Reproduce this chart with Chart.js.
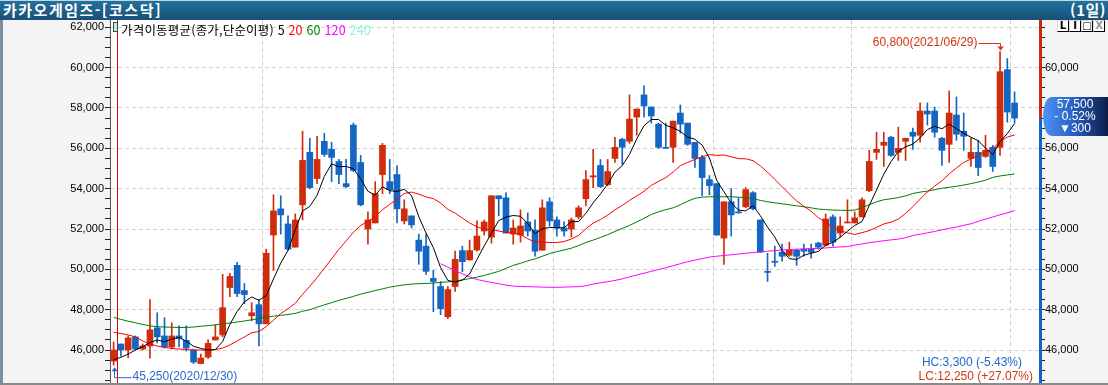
<!DOCTYPE html>
<html lang="ko">
<head>
<meta charset="utf-8">
<title>카카오게임즈 일봉</title>
<script src="https://cdn.jsdelivr.net/npm/chart.js@4.4.1/dist/chart.umd.min.js"></script>
<style>
  html, body { margin: 0; padding: 0; }
  body { width: 1108px; height: 385px; overflow: hidden; position: relative; background: #f4f4f4; font-family: 'Liberation Sans', Arial, sans-serif; }
  #c { position: absolute; left: 0; top: 0; }
  #edge { position: absolute; left: 0; top: 0; width: 3px; height: 385px; background: #7d8ea3; }
  #bottom { position: absolute; left: 0; top: 383px; width: 1108px; height: 2px; background: #8a8a8a; }
  #title { position: absolute; left: 0; top: 0; width: 1108px; height: 20px; color: #fff;
           background: linear-gradient(#c9d3dc 0, #c9d3dc 1px, #20729c 1px, #1a4f78 100%);
           font: bold 15px 'Noto Sans CJK KR'; }
  #title .l { position: absolute; left: 3px; top: 0; line-height: 20px; letter-spacing: 1.5px; }
  #title .r { position: absolute; right: 2px; top: 0; line-height: 20px; letter-spacing: 0.5px; }
  #icon { position: absolute; left: 113px; top: 22px; width: 3px; height: 8px; border: 1px solid #3c4a44; background: #cde8d2; }
  #legend { position: absolute; left: 121px; top: 20px; line-height: 15px; font: 12.5px 'Noto Sans CJK KR'; color: #000; white-space: nowrap; letter-spacing: 0.2px; }
  .btn { position: absolute; top: 20px; width: 10px; height: 10px; background: #fff; border: 1px solid #000;
         border-top-color: #ddd; border-left-color: #ddd; font: bold 10px 'DejaVu Sans'; line-height: 10px; text-align: center; color: #000; }
  .stat { position: absolute; font: 12px 'Liberation Sans'; line-height: 14px; white-space: nowrap; }
</style>
</head>
<body>
<canvas id="c" width="1108" height="385"></canvas>
<div id="edge"></div>
<div id="bottom"></div>
<div id="title"><span class="l">카카오게임즈-[코스닥]</span><span class="r">(1일)</span></div>
<div id="icon"></div>
<div id="legend">가격이동평균(종가,단순이평) <span style="color:#000">5</span> <span style="color:#ff0000">20</span> <span style="color:#008000">60</span> <span style="color:#ff00ff">120</span> <span style="color:#8ff0d6">240</span></div>
<div class="btn" style="left:1057px">L</div>
<div class="btn" style="left:1069px">I</div>
<div class="btn" style="left:1081px">□</div>
<div class="btn" style="left:1093px;color:#999">X</div>
<div class="stat" style="right:86px;top:355px;color:#2366c8">HC:3,300 (-5.43%)</div>
<div class="stat" style="right:75px;top:369px;color:#d4340f">LC:12,250 (+27.07%)</div>
<script>
// trading days shown (2020/12/30 .. 2021/07/01)
const dec20 = [30];
const jan21 = [4,5,6,7,8,11,12,13,14,15,18,19,20,21,22,25,26,27,28,29];
const feb21 = [1,2,3,4,5,8,9,10,15,16,17,18,19,22,23,24,25,26];
const mar21 = [2,3,4,5,8,9,10,11,12,15,16,17,18,19,22,23,24,25,26,29,30,31];
const apr21 = [1,2,5,6,7,8,9,12,13,14,15,16,19,20,21,22,23,26,27,28,29,30];
const may21 = [3,4,6,7,10,11,12,13,14,17,18,20,21,24,25,26,27,28,31];
const jun21 = [1,2,3,4,7,8,9,10,11,14,15,16,17,18,21,22,23,24,25,28,29,30];
const jul21 = [1];

const open = [45450,46300,46000,46650,46050,46200,47100,46700,46150,46700,46480,46000,45330,45650,46500,46750,49100,50200,48950,47700,
  48250,47300,51700,53000,52250,51100,53200,55800,54500,56350,55950,55350,54250,57150,55300,52000,52300,54700,54350,54700,
  52400,52650,51450,51150,49550,49150,47650,49150,50930,50470,50960,51900,51600,53650,53550,51750,51700,52350,51950,50950,
  53350,52450,52050,52000,52600,53500,54580,55150,54200,55500,56450,56350,57550,58650,58050,57200,56050,56050,57750,57250,
  56300,55550,54450,54250,51550,53350,52850,53100,53800,52450,49900,50400,50850,50700,50950,51000,51000,51300,51200,52600,
  51800,52300,52300,52600,53900,55800,56150,56550,55800,56350,56800,56650,57850,57850,56500,56200,57650,56850,55500,55800,
  55600,56050,56050,59900,58250];
const high = [46400,46300,46700,46700,46300,48500,47850,47600,47350,47200,47200,46050,45800,46500,47250,49750,49800,50350,49300,48350,
  48500,51000,53700,53650,52650,52750,56850,56500,56600,56750,56300,55450,55450,57250,55650,52850,54350,56250,55450,55150,
  53450,52650,51750,51750,49950,49400,49150,50900,51150,51450,52400,52450,53650,53650,53800,52450,52950,52800,52450,53450,
  53550,52600,52350,52550,53150,54900,55950,55450,55450,56550,56500,58650,57950,59100,58050,57250,57250,57350,58150,57250,
  56300,55650,54650,54250,53350,54000,53550,54050,53850,52450,50800,51150,51250,51350,51000,51250,51250,51350,52750,52700,
  52600,53450,52850,53550,55900,56800,56800,56600,57050,56500,57000,58250,58250,58050,56550,58850,58550,57750,56500,56400,
  56650,56150,60800,60450,58800];
const low = [45250,45700,45620,46000,46000,45600,46350,46100,46050,46150,45950,45330,45320,45580,46500,46650,48650,48650,48300,47450,
  46200,47300,49950,51750,50950,51100,52450,54000,54250,55600,54350,54250,54050,54850,53150,51250,52300,53750,53750,52300,
  52250,52050,50250,49750,47900,47750,47550,48900,49880,50450,50900,51700,51300,52650,51800,51250,51350,51650,50650,50950,
  52150,51650,51650,51600,52500,53150,54050,54050,54150,55300,55200,56250,56650,57550,57250,56000,56000,55300,56750,56150,
  55050,53650,53700,51700,50250,51650,52780,53050,52950,50850,49400,50150,50400,50650,50200,50650,50550,51000,51150,51150,
  51600,52300,52300,52600,53850,55450,55100,55600,55400,55400,55950,56300,57150,56550,55150,55300,56400,55900,55100,54650,
  55550,54850,55650,57300,57250];
const close = [46000,46000,46600,46050,46200,47000,46650,46150,46700,46580,46100,45400,45600,46330,46650,48100,49650,48800,48750,47850,
  47300,50800,52900,52700,51000,52450,55400,54050,55450,55700,55550,54700,54100,54900,53200,52450,53750,56150,53950,53000,
  53000,52200,50900,49900,49400,48050,49000,50500,50380,50930,51650,52350,53650,53500,51800,52050,52150,51900,50900,53050,
  52400,52050,51900,52450,53050,54450,54640,54100,54850,56050,56050,57450,57950,58100,57600,56050,56000,57350,57200,56200,
  55500,54550,54150,51700,53350,52700,52800,53950,53000,50850,49850,50350,50650,50950,50650,50900,50850,51100,52500,51350,
  52150,52350,52550,53450,55350,55950,56300,55650,56000,56500,56600,57850,57700,56800,55900,57750,56700,56600,55800,55050,
  55900,55100,59800,57800,57500];

// moving averages
const ma5 = [45510,45640,45800,46000,46170,46370,46500,46410,46540,46620,46440,46190,46080,46000,46020,46420,47270,47910,48390,48630,
  48470,48700,49520,50310,50940,51970,52890,53120,53670,54610,55230,55090,55100,54990,54490,53870,53680,54090,53900,53860,
  53970,53660,52610,51800,51080,50090,49450,49370,49470,49770,50490,51160,51790,52420,52590,52670,52630,52280,51760,52010,
  52080,52060,52060,52370,52370,52780,53300,53740,54220,54820,55140,55700,56470,57120,57430,57430,57140,57020,56840,56560,
  56450,56160,55520,54420,53850,53290,52940,52900,53160,52660,52090,51600,50940,50530,50490,50700,50800,50890,51200,51340,
  51590,51890,52180,52370,53170,53930,54720,55340,55850,56080,56210,56520,56930,57090,56970,57200,56970,56750,56550,56380,
  56010,55690,56330,56730,57220];
const ma20 = [46880,46820,46750,46650,46450,46300,46200,46130,46080,46050,46030,46000,46000,46000,46020,46100,46250,46450,46650,46860,
  46920,47160,47480,47810,48050,48320,48760,49160,49590,50050,50520,50990,51410,51840,52170,52390,52590,52960,53220,53480,
  53760,53830,53730,53590,53510,53290,52970,52790,52540,52300,52110,51990,51970,51900,51830,51810,51730,51510,51360,51360,
  51330,51330,51380,51500,51690,52010,52290,52470,52690,52950,53170,53420,53640,53870,54160,54360,54550,54820,55140,55300,
  55450,55580,55690,55650,55670,55580,55490,55480,55390,55130,54820,54460,54100,53740,53390,53130,52880,52560,52330,52090,
  51920,51810,51730,51820,51920,52080,52250,52340,52490,52770,53110,53480,53840,54130,54390,54730,55030,55300,55470,55650,
  55840,55980,56340,56560,56660];
const ma60 = [47620,47520,47430,47350,47270,47200,47160,47140,47130,47120,47120,47140,47180,47210,47250,47300,47340,47390,47440,47500,
  47560,47630,47680,47720,47760,47820,47920,48000,48120,48240,48350,48460,48560,48660,48770,48860,48950,49030,49120,49180,
  49230,49270,49290,49300,49320,49350,49380,49420,49480,49540,49610,49700,49800,49900,50050,50200,50300,50420,50520,50650,
  50780,50880,50960,51050,51180,51330,51450,51580,51720,51880,52030,52180,52350,52530,52720,52850,52960,53050,53200,53380,
  53520,53580,53600,53600,53600,53600,53580,53550,53510,53420,53350,53300,53250,53200,53150,53100,53050,52990,52960,52940,
  52930,52920,52940,53060,53200,53350,53450,53500,53560,53640,53760,53830,53880,53950,54020,54070,54120,54180,54250,54330,
  54420,54560,54630,54680,54730];
const ma120 = [null,null,null,null,null,null,null,null,null,null,null,null,null,null,null,null,null,null,null,null,
  null,null,null,null,null,null,null,null,null,null,null,null,null,null,null,null,null,null,null,null,
  null,null,null,null,null,50280,50110,49940,49780,49620,49500,49420,49350,49290,49220,49170,49150,49140,49130,49120,
  49110,49110,49120,49130,49140,49190,49270,49330,49390,49450,49530,49630,49720,49810,49900,49990,50080,50180,50280,50380,
  50460,50530,50610,50650,50690,50720,50760,50800,50830,50870,50900,50930,50960,50980,51000,51010,51030,51040,51060,51090,
  51110,51130,51200,51260,51320,51370,51420,51460,51500,51570,51680,51740,51810,51880,51960,52030,52100,52180,52260,52380,
  52490,52600,52700,52800,52910];

const priceTicks = [46000,48000,50000,52000,54000,56000,58000,60000,62000];
const yMin = 44366, yMax = 62362;
const spareSlots = 3;

const pad = d => (d < 10 ? '0' : '') + d;
const dates = [].concat(
  dec20.map(d => '2020/12/' + pad(d)), jan21.map(d => '2021/01/' + pad(d)),
  feb21.map(d => '2021/02/' + pad(d)), mar21.map(d => '2021/03/' + pad(d)),
  apr21.map(d => '2021/04/' + pad(d)), may21.map(d => '2021/05/' + pad(d)),
  jun21.map(d => '2021/06/' + pad(d)), jul21.map(d => '2021/07/' + pad(d)));
const labels = dates.slice();
for (let k = 0; k < spareSlots; k++) labels.push(' '.repeat(k + 1));

const UP = '#cf2c0c', DOWN = '#1565c3';
const colors = close.map((c, i) => c >= open[i] ? UP : DOWN);
const bodies = close.map((c, i) => [open[i], c]);
const wicks = close.map((c, i) => [low[i], high[i]]);

// month boundaries (dashed) and year boundary (red)
const monthStart = [], yearStart = [];
for (let i = 1; i < dates.length; i++) {
  if (dates[i].slice(0, 4) !== dates[i - 1].slice(0, 4)) yearStart.push(i);
  else if (dates[i].slice(0, 7) !== dates[i - 1].slice(0, 7)) monthStart.push(i);
}

const fmt = v => v.toLocaleString('en-US');
const minorTicks = [];
for (let v = 44500; v <= 62000; v += 500) minorTicks.push(v);

const decor = {
  id: 'decor',
  beforeDraw(chart) {
    const { ctx, chartArea: a } = chart;
    ctx.save();
    ctx.fillStyle = '#ffffff';
    ctx.fillRect(a.left, a.top, a.right - a.left, a.bottom - a.top);
    ctx.restore();
  },
  beforeDatasetsDraw(chart) {
    const { ctx, chartArea: a, scales: { x } } = chart;
    ctx.save();
    ctx.strokeStyle = '#e00000';
    ctx.lineWidth = 1;
    yearStart.forEach(i => {
      const px = Math.round((x.getPixelForValue(i - 1) + x.getPixelForValue(i)) / 2) + 0.5;
      ctx.beginPath(); ctx.moveTo(px, a.top); ctx.lineTo(px, a.bottom); ctx.stroke();
    });
    ctx.restore();
  },
  afterDatasetsDraw(chart) {
    const { ctx, scales: { x, y } } = chart;
    ctx.save();
    ctx.font = '12px "Liberation Sans"';
    ctx.lineWidth = 1;
    // highest high
    const hi = high.indexOf(Math.max(...high));
    const xh = Math.round(x.getPixelForValue(hi)) + 0.5;
    const yh = y.getPixelForValue(high[hi]);
    const ly = Math.round(yh - 9) + 0.5;
    ctx.strokeStyle = ctx.fillStyle = '#d4340f';
    ctx.beginPath(); ctx.moveTo(xh - 22, ly); ctx.lineTo(xh, ly); ctx.lineTo(xh, yh - 2); ctx.stroke();
    ctx.beginPath(); ctx.moveTo(xh - 3, yh - 5); ctx.lineTo(xh + 3.5, yh - 5); ctx.lineTo(xh, yh - 1); ctx.closePath(); ctx.fill();
    ctx.textAlign = 'right'; ctx.textBaseline = 'middle';
    ctx.fillText(fmt(high[hi]) + '(' + dates[hi] + ')', xh - 23, ly - 1);
    // lowest low
    const lo = low.indexOf(Math.min(...low));
    const xl = Math.round(x.getPixelForValue(lo)) + 0.5;
    const yl = y.getPixelForValue(low[lo]);
    const by = yl + 12.5;
    ctx.strokeStyle = ctx.fillStyle = '#2a6acb';
    ctx.beginPath(); ctx.moveTo(xl, yl + 4); ctx.lineTo(xl, by); ctx.lineTo(xl + 17, by); ctx.stroke();
    ctx.beginPath(); ctx.moveTo(xl - 3, yl + 6); ctx.lineTo(xl + 3.5, yl + 6); ctx.lineTo(xl, yl + 2); ctx.closePath(); ctx.fill();
    ctx.textAlign = 'left';
    ctx.fillText(fmt(low[lo]) + '(' + dates[lo] + ')', xl + 18, by - 1);
    ctx.restore();
  },
  afterDraw(chart) {
    const { ctx, chartArea: a, scales: { y2 } } = chart;
    const last = close.length - 1;
    const yp = y2.getPixelForValue(close[last]);
    ctx.save();
    // right axis split at current price
    ctx.fillStyle = '#cd2a0a';
    ctx.fillRect(a.right - 1, a.top, 3, yp - a.top);
    ctx.fillStyle = '#1464c8';
    ctx.fillRect(a.right - 1, yp, 3, a.bottom - yp);
    // current price box
    const top = Math.round(yp - 21), bot = Math.round(yp + 18), L = a.right + 3, R = chart.width;
    const g = ctx.createLinearGradient(L, 0, R, 0);
    g.addColorStop(0, '#4f94f4');
    g.addColorStop(0.45, '#2a62c8');
    g.addColorStop(1, '#0b1d48');
    ctx.fillStyle = g;
    ctx.beginPath();
    ctx.moveTo(L, yp - 2);
    ctx.quadraticCurveTo(L + 1, top, L + 9, top);
    ctx.lineTo(R, top); ctx.lineTo(R, bot); ctx.lineTo(L + 9, bot);
    ctx.quadraticCurveTo(L + 1, bot, L, yp - 2);
    ctx.closePath(); ctx.fill();
    const chg = close[last] - close[last - 1];
    const pct = chg / close[last - 1] * 100;
    ctx.fillStyle = '#ffffff';
    ctx.font = '12px "Liberation Sans"';
    ctx.textAlign = 'center'; ctx.textBaseline = 'middle';
    const cx = L + 32;
    ctx.fillText(fmt(close[last]), cx, top + 8);
    ctx.fillText((chg < 0 ? '- ' : '+ ') + Math.abs(pct).toFixed(2) + '%', cx, top + 20);
    ctx.fillText((chg < 0 ? '▼' : '▲') + fmt(Math.abs(chg)), cx, top + 32);
    ctx.restore();
  }
};

Chart.defaults.font.family = "'Liberation Sans', Arial, sans-serif";

new Chart(document.getElementById('c'), {
  type: 'bar',
  data: {
    labels: labels,
    datasets: [
      { type: 'line', label: '5', data: ma5, borderColor: '#000000', borderWidth: 1, pointRadius: 0, tension: 0, order: 0 },
      { type: 'line', label: '20', data: ma20, borderColor: '#ff0000', borderWidth: 1, pointRadius: 0, tension: 0, order: 0 },
      { type: 'line', label: '60', data: ma60, borderColor: '#008000', borderWidth: 1, pointRadius: 0, tension: 0, order: 0 },
      { type: 'line', label: '120', data: ma120, borderColor: '#ff00ff', borderWidth: 1, pointRadius: 0, tension: 0, order: 0 },
      { label: 'body', data: bodies, backgroundColor: colors, barThickness: 6, grouped: false, minBarLength: 1, order: 1 },
      { label: 'wick', data: wicks, backgroundColor: colors, barThickness: 1, grouped: false, order: 2 }
    ]
  },
  options: {
    responsive: false,
    animation: false,
    devicePixelRatio: 1,
    layout: { padding: { top: 20, bottom: 2, left: 0, right: 0 } },
    plugins: { legend: { display: false }, tooltip: { enabled: false } },
    scales: {
      x: {
        offset: true,
        ticks: { display: false, autoSkip: false },
        grid: { offset: true, drawTicks: false, color: c => monthStart.includes(c.index) ? '#d0d0d0' : 'rgba(0,0,0,0)' },
        border: { display: false, dash: [4, 3] },
        afterFit: s => { s.height = 0; }
      },
      y: {
        position: 'left', min: yMin, max: yMax,
        afterBuildTicks: s => { s.ticks = minorTicks.map(v => ({ value: v })); },
        afterFit: s => { s.width = 110; s.paddingTop = 0; s.paddingBottom = 0; },
        ticks: { color: '#000', padding: 1, autoSkip: false, font: { size: 11 }, callback: v => priceTicks.includes(v) ? fmt(v) : '' },
        grid: { color: c => (c.tick && priceTicks.includes(c.tick.value)) ? '#d0d0d0' : 'rgba(0,0,0,0)', tickColor: '#222', tickLength: 5 },
        border: { color: '#555', dash: [4, 3] }
      },
      y2: {
        position: 'right', min: yMin, max: yMax,
        afterBuildTicks: s => { s.ticks = minorTicks.map(v => ({ value: v })); },
        afterFit: s => { s.width = 68; s.paddingTop = 0; s.paddingBottom = 0; },
        ticks: { color: '#000', padding: 0, autoSkip: false, font: { size: 11 }, callback: v => (priceTicks.includes(v) && v < 62000) ? fmt(v) : '' },
        grid: { drawOnChartArea: false, tickColor: '#222', tickLength: 5 },
        border: { color: '#1464c8' }
      }
    }
  },
  plugins: [decor]
});
</script>
</body>
</html>
